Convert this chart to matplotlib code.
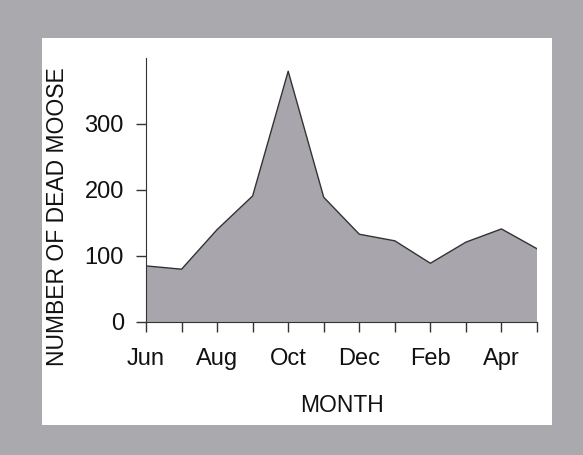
import matplotlib
matplotlib.use("Agg")
from matplotlib import pyplot as plt
from matplotlib.patches import Rectangle

# dead moose per month, Jun through May
months = ["Jun", "Jul", "Aug", "Sep", "Oct", "Nov",
          "Dec", "Jan", "Feb", "Mar", "Apr", "May"]
dead_moose = [85, 80, 140, 191, 380, 189, 133, 123, 89, 121, 141, 111]
y_ticks = [0, 100, 200, 300]

plt.rcParams['font.family'] = ['Liberation Sans', 'DejaVu Sans']

fig = plt.figure(figsize=(5.83, 4.55), dpi=100)
fig.patch.set_facecolor("#aaa9ad")

# white panel
fig.patches.append(Rectangle((42 / 583, 1 - 425 / 455), 510 / 583, 387 / 455,
                             transform=fig.transFigure, facecolor="white",
                             edgecolor="none", zorder=-5))

ax = fig.add_axes([146 / 583, 1 - 322 / 455, 391 / 583, 264 / 455])
ax.set_facecolor("none")
ax.set_zorder(5)

x = list(range(len(months)))
ax.fill_between(x, 0, dead_moose, facecolor="#a8a6ac", edgecolor="none")
ax.plot(x, dead_moose, color="#333333", linewidth=1.0)

ax.set_xlim(0, len(months) - 1)
ax.set_ylim(0, 400)

ax.spines['top'].set_visible(False)
ax.spines['right'].set_visible(False)
ax.spines['left'].set_color("#333333")
ax.spines['bottom'].set_color("#333333")

ax.set_xticks(x)
ax.set_xticklabels([m if i % 2 == 0 else "" for i, m in enumerate(months)])
ax.set_yticks(y_ticks)
ax.tick_params(axis='both', direction='out', length=7, width=1,
               color="#333333", labelsize=17, labelcolor="#111111")
ax.tick_params(axis='x', pad=12)
ax.tick_params(axis='y', pad=9)

ax.set_xlabel("MONTH", fontsize=16.5, color="#111111", labelpad=17)
ax.set_ylabel("NUMBER OF DEAD MOOSE", fontsize=16.5, color="#111111")
ax.yaxis.set_label_coords(-0.197, 0.40)

fig.savefig("out.png", dpi=100, facecolor=fig.get_facecolor())
